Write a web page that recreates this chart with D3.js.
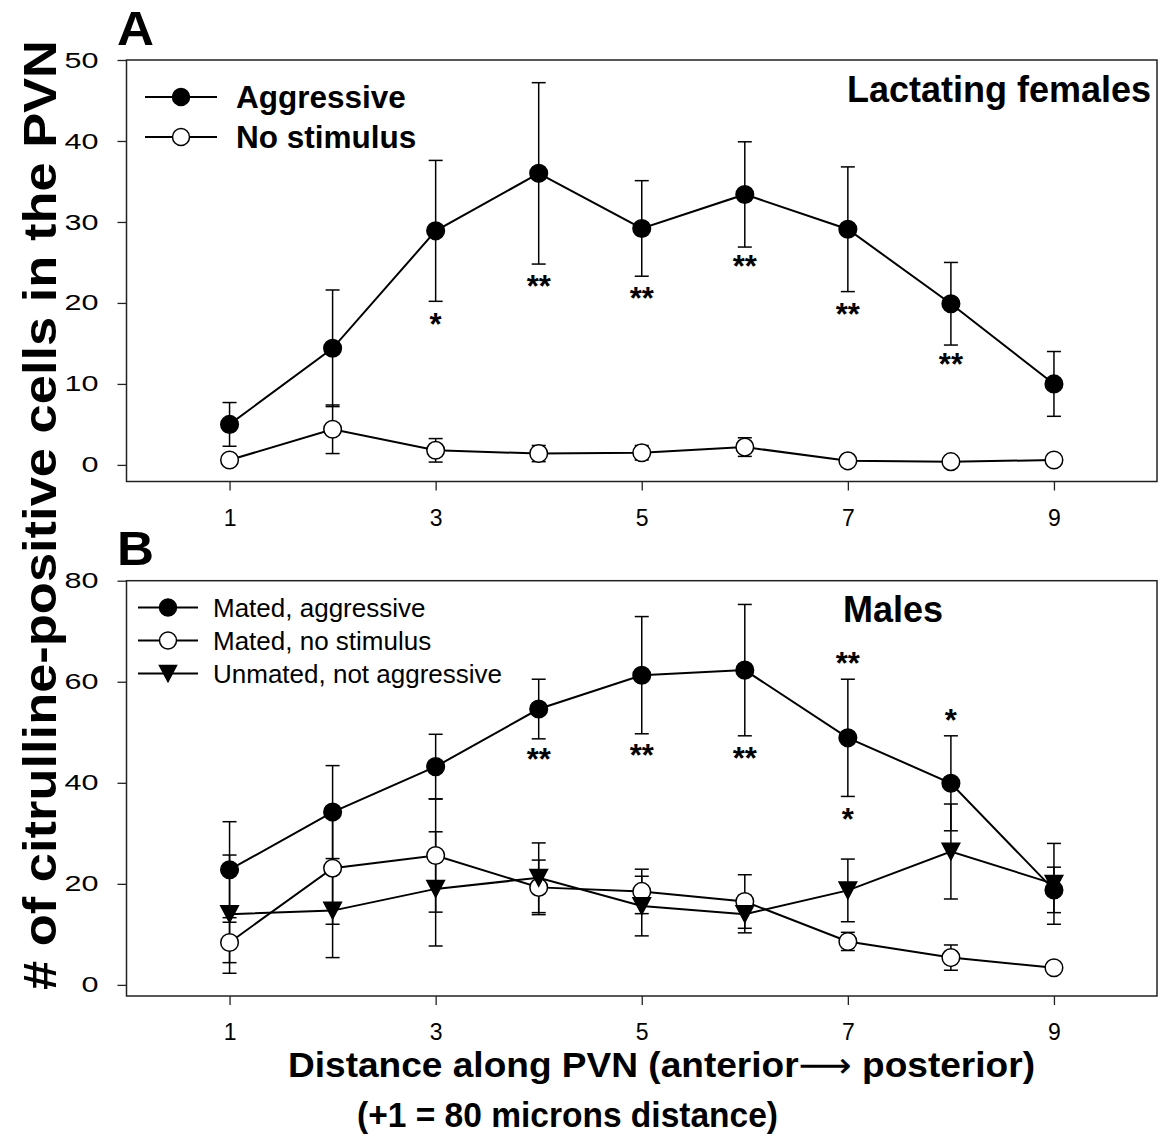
<!DOCTYPE html>
<html>
<head>
<meta charset="utf-8">
<script src="https://cdn.jsdelivr.net/npm/d3@7"></script>
<style>
  body { margin: 0; background: #fff; }
  svg { display: block; font-family: "Liberation Sans", Arial, sans-serif; }
</style>
</head>
<body>
<svg id="chart" width="1159" height="1141"></svg>
<script>
// positions along the PVN
const positions = [1, 2, 3, 4, 5, 6, 7, 8, 9];
const xTicks = [1, 3, 5, 7, 9];

// panel A - lactating females
const femAggressive    = [5.0, 14.4, 28.9, 36.0, 29.2, 33.4, 29.1, 19.9, 10.0];
const femAggressiveErr = [2.7, 7.2, 8.7, 11.2, 5.9, 6.5, 7.7, 5.1, 4.0];
const femNoStim        = [0.6, 4.4, 1.8, 1.4, 1.5, 2.2, 0.5, 0.4, 0.6];
const femNoStimErr     = [0.4, 3.0, 1.45, 1.0, 0.9, 1.15, 0.3, 0.3, 0.3];
const femStars = [
  { x: 3, y: 18.3, t: "*" }, { x: 4, y: 23.0, t: "**" }, { x: 5, y: 21.5, t: "**" },
  { x: 6, y: 25.4, t: "**" }, { x: 7, y: 19.5, t: "**" }, { x: 8, y: 13.3, t: "**" }
];
const yTicksA = [0, 10, 20, 30, 40, 50];

// panel B - males
const maleAggressive    = [22.8, 34.2, 43.2, 54.6, 61.3, 62.3, 48.9, 39.9, 18.8];
const maleAggressiveErr = [9.5, 9.2, 6.4, 5.9, 11.6, 13.0, 11.6, 9.4, 4.5];
const maleNoStim        = [8.4, 23.1, 25.6, 19.3, 18.5, 16.5, 8.6, 5.4, 3.4];
const maleNoStimErr     = [4.0, 11.1, 11.2, 5.4, 4.4, 5.3, 1.8, 2.5, 0.4];
const unmated           = [14.0, 14.7, 19.0, 21.2, 15.6, 14.0, 18.7, 26.4, 20.0];
const unmatedErr        = [11.7, 9.3, 11.3, 6.9, 5.9, 3.7, 6.2, 9.4, 8.0];
const maleStars = [
  { x: 4, y: 46.0, t: "**" }, { x: 5, y: 46.8, t: "**" }, { x: 6, y: 46.3, t: "**" },
  { x: 7, y: 65.0, t: "**" }, { x: 7, y: 34.3, t: "*" }, { x: 8, y: 53.8, t: "*" }
];
const yTicksB = [0, 20, 40, 60, 80];

const svg = d3.select("#chart");
const left = 126.5, right = 1157;

const x = d3.scaleLinear().domain([0, 10]).range([left, right]);

function drawPanel(cfg) {
  const y = d3.scaleLinear().domain(cfg.yDomain).range([cfg.bottom, cfg.top]);
  const g = svg.append("g");

  // frame
  g.append("rect")
    .attr("x", left).attr("y", cfg.top)
    .attr("width", right - left).attr("height", cfg.bottom - cfg.top)
    .attr("fill", "none").attr("stroke", "#222").attr("stroke-width", 1.5);

  const yAxis = g.append("g")
    .attr("transform", `translate(${left},0)`)
    .call(d3.axisLeft(y).tickValues(cfg.yTicks).tickSize(9).tickSizeOuter(0).tickPadding(19));
  yAxis.select(".domain").remove();
  yAxis.selectAll("line").attr("stroke", "#222").attr("stroke-width", 1.3);
  // the y tick numbers are drawn wide in the original
  yAxis.selectAll("text").attr("font-size", 22).attr("fill", "#000")
    .attr("font-family", "'Liberation Sans', Arial, sans-serif")
    .attr("textLength", d => String(d).length * 17)
    .attr("lengthAdjust", "spacingAndGlyphs");

  const xAxis = g.append("g")
    .attr("transform", `translate(0,${cfg.bottom})`)
    .call(d3.axisBottom(x).tickValues(xTicks).tickSize(9).tickSizeOuter(0).tickPadding(19));
  xAxis.select(".domain").remove();
  xAxis.selectAll("line").attr("stroke", "#222").attr("stroke-width", 1.3);
  xAxis.selectAll("text").attr("font-size", 23).attr("fill", "#000")
    .attr("font-family", "'Liberation Sans', Arial, sans-serif");

  const line = d3.line().x((d, i) => x(positions[i])).y(d => y(d));

  // error bars first, then lines, then markers
  cfg.series.forEach(s => {
    const eb = g.append("g");
    s.values.forEach((v, i) => {
      const cx = x(positions[i]);
      const y1 = y(v + s.err[i]), y2 = y(v - s.err[i]);
      eb.append("line").attr("x1", cx).attr("x2", cx).attr("y1", y1).attr("y2", y2)
        .attr("stroke", "#000").attr("stroke-width", 1.5);
      [y1, y2].forEach(yy => eb.append("line")
        .attr("x1", cx - 7).attr("x2", cx + 7).attr("y1", yy).attr("y2", yy)
        .attr("stroke", "#000").attr("stroke-width", 1.5));
    });
  });

  cfg.series.forEach(s => {
    g.append("path").datum(s.values).attr("d", line)
      .attr("fill", "none").attr("stroke", "#000").attr("stroke-width", 2);
  });

  cfg.series.forEach(s => {
    g.selectAll(null).data(s.values).enter()
      .append("path")
      .attr("transform", (d, i) => `translate(${x(positions[i])},${y(d)})`)
      .attr("d", markerPath(s.marker, 8.8))
      .attr("fill", s.marker === "open" ? "#fff" : "#000")
      .attr("stroke", "#000").attr("stroke-width", 1.5);
  });

  // significance stars
  g.selectAll(null).data(cfg.stars).enter()
    .append("text")
    .attr("x", d => x(d.x))
    .attr("y", d => y(d.y) + 18)
    .attr("text-anchor", "middle")
    .attr("font-size", 31).attr("font-weight", "bold")
    .text(d => d.t);

  // legend
  const lg = g.append("g");
  cfg.series.forEach((s, i) => {
    const ly = cfg.legend.y + i * cfg.legend.step;
    lg.append("line").attr("x1", cfg.legend.x1).attr("x2", cfg.legend.x2)
      .attr("y1", ly).attr("y2", ly).attr("stroke", "#000").attr("stroke-width", 2);
    lg.append("path")
      .attr("transform", `translate(${(cfg.legend.x1 + cfg.legend.x2) / 2},${ly})`)
      .attr("d", markerPath(s.marker, 8.5))
      .attr("fill", s.marker === "open" ? "#fff" : "#000")
      .attr("stroke", "#000").attr("stroke-width", 1.5);
    lg.append("text").attr("x", cfg.legend.tx).attr("y", ly + cfg.legend.dy)
      .attr("font-size", cfg.legend.size).attr("font-weight", cfg.legend.weight)
      .text(s.name);
  });

  // panel title and letter
  g.append("text").attr("x", cfg.title.x).attr("y", cfg.title.y)
    .attr("text-anchor", cfg.title.anchor)
    .attr("font-size", 36).attr("font-weight", "bold").text(cfg.title.text);
  g.append("text").attr("x", 117).attr("y", cfg.letterY)
    .attr("font-size", 48).attr("font-weight", "bold")
    .attr("textLength", 37).attr("lengthAdjust", "spacingAndGlyphs")
    .text(cfg.letter);
}

function markerPath(kind, r) {
  if (kind === "tri") {
    const h = r * 1.9;
    return `M${-r},${-h / 2}L${r},${-h / 2}L0,${h / 2}Z`;
  }
  return d3.symbol(d3.symbolCircle, Math.PI * r * r)();
}

drawPanel({
  top: 60, bottom: 481.5, yDomain: [-2.05, 50], yTicks: yTicksA,
  series: [
    { name: "Aggressive", values: femAggressive, err: femAggressiveErr, marker: "filled" },
    { name: "No stimulus", values: femNoStim, err: femNoStimErr, marker: "open" }
  ],
  stars: femStars,
  legend: { x1: 145, x2: 217, tx: 236, y: 97, step: 40, dy: 11, size: 31.5, weight: "bold" },
  title: { text: "Lactating females", x: 1151, y: 102, anchor: "end" },
  letter: "A", letterY: 45
});

drawPanel({
  top: 580.7, bottom: 996, yDomain: [-2.2, 80], yTicks: yTicksB,
  series: [
    { name: "Mated, aggressive", values: maleAggressive, err: maleAggressiveErr, marker: "filled" },
    { name: "Mated, no stimulus", values: maleNoStim, err: maleNoStimErr, marker: "open" },
    { name: "Unmated, not aggressive", values: unmated, err: unmatedErr, marker: "tri" }
  ],
  stars: maleStars,
  legend: { x1: 138, x2: 198, tx: 213, y: 607.5, step: 33, dy: 9, size: 26, weight: "normal" },
  title: { text: "Males", x: 893, y: 622, anchor: "middle" },
  letter: "B", letterY: 565
});

// shared axis titles
svg.append("text")
  .attr("transform", "translate(56,515) rotate(-90)")
  .attr("text-anchor", "middle")
  .attr("font-size", 46).attr("font-weight", "bold")
  .attr("textLength", 950).attr("lengthAdjust", "spacingAndGlyphs")
  .text("# of citrulline-positive cells in the PVN");

const xTitle = svg.append("text")
  .attr("x", 288).attr("y", 1077)
  .attr("font-size", 35).attr("font-weight", "bold")
  .attr("textLength", 747).attr("lengthAdjust", "spacingAndGlyphs");
xTitle.append("tspan").text("Distance along PVN (anterior");
xTitle.append("tspan").attr("font-weight", "normal").attr("font-family", "'DejaVu Sans', sans-serif")
  .text("\u27F6");
xTitle.append("tspan").text(" posterior)");

svg.append("text")
  .attr("x", 357).attr("y", 1127)
  .attr("font-size", 35).attr("font-weight", "bold")
  .attr("textLength", 421).attr("lengthAdjust", "spacingAndGlyphs")
  .text("(+1 = 80 microns distance)");
</script>
</body>
</html>
